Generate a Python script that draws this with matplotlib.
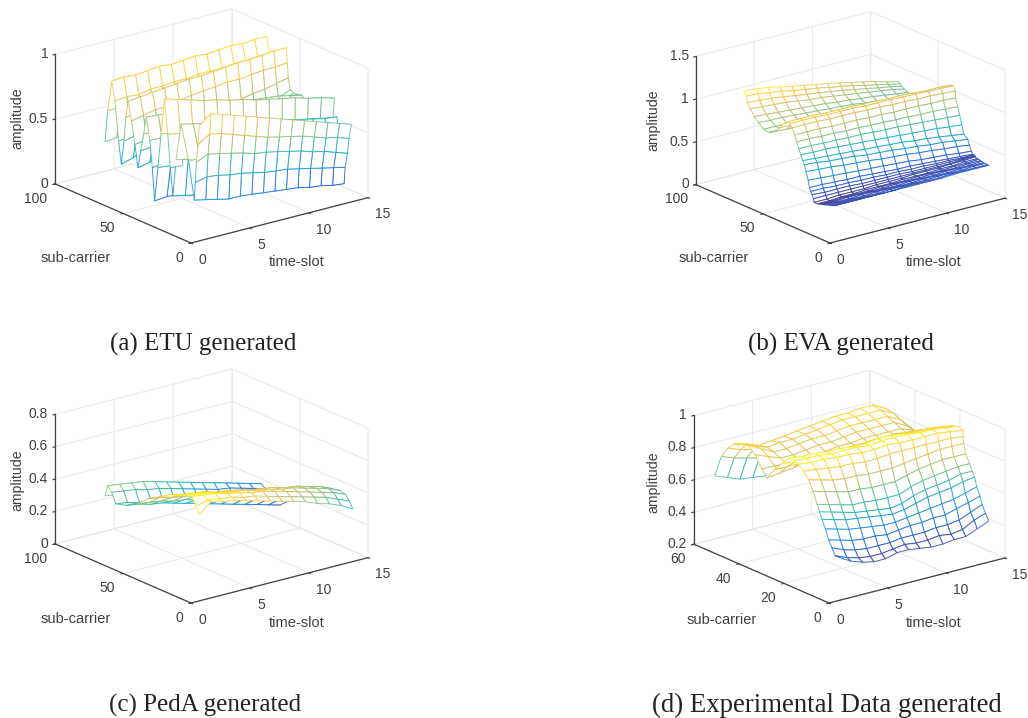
# -*- coding: utf-8 -*-
"""Four mesh plots of channel amplitude over time-slot and sub-carrier."""
import numpy as np
import matplotlib
matplotlib.use("Agg")
import matplotlib.pyplot as plt
from matplotlib.colors import LinearSegmentedColormap, Normalize
from mpl_toolkits.mplot3d import proj3d

"DATA"
x_ticks = [0, 5, 10, 15]
sub_ticks = [0, 50, 100]
sub_ticks_d = [0, 20, 40, 60]
amp_ticks_a = [0, 0.5, 1]
amp_ticks_b = [0, 0.5, 1, 1.5]
amp_ticks_c = [0, 0.2, 0.4, 0.6, 0.8]
amp_ticks_d = [0.2, 0.4, 0.6, 0.8, 1]
captions = ["(a) ETU generated", "(b) EVA generated", "(c) PedA generated",
            "(d) Experimental Data generated"]

# ETU: one entry per mesh row, back to front
y_a = [72, 70, 67, 64.7, 62, 60, 58, 56.7, 55, 52.5, 50, 47.7, 45.7, 43.5, 41.6, 39, 37.2,
       35.5, 33, 30.7, 28.2, 25.8, 24, 22, 19.7, 16, 10.5, 6.3, 5.5, 4.7, 3.5, 2.7]
end_a = [14, 14, 14.1, 14.1, 14.2, 14.2, 14.3, 14.3, 14.4, 14.2, 14, 13.9, 14, 14.1, 14.2, 14.3, 14.5,
         14.7, 14.9, 15.2, 15.4, 15, 14.8, 14.6, 14.4, 14.2, 14, 13.7, 13.7, 13.8, 13.8, 13.9]
z_a = [
    [.43, .44, .44, .45, .45, .46, .46, .46, .47, .47, .47, .48, .48, .48],
    [.68, .68, .69, .69, .69, .69, .70, .70, .70, .70, .70, .70, .70, .70],
    [.92, .93, .92, .93, .94, .93, .94, .95, .94, .95, .96, .95, .96, .96],
    [.78, .79, .78, .80, .80, .81, .81, .82, .82, .82, .83, .83, .84, .84],
    [.48, .50, .52, .54, .56, .58, .60, .62, .63, .65, .66, .68, .70, .72],
    [.31, .34, .38, .42, .46, .50, .54, .58, .60, .62, .64, .66, .68, .70],
    [.50, .52, .55, .58, .60, .63, .65, .67, .70, .72, .74, .76, .78, .80],
    [.69, .70, .72, .74, .75, .77, .78, .80, .81, .83, .85, .86, .88, .89],
    [.82, .83, .84, .85, .86, .87, .87, .88, .89, .90, .90, .91, .92, .92],
    [.68, .70, .72, .72, .74, .76, .77, .78, .79, .79, .80, .81, .81, .82],
    [.51, .52, .53, .55, .56, .58, .60, .62, .63, .65, .67, .68, .70, .72],
    [.34, .36, .38, .39, .41, .43, .45, .47, .49, .51, .53, .56, .60, .64],
    [.48, .49, .50, .50, .51, .52, .53, .54, .55, .56, .57, .58, .60, .62],
    [.62, .62, .63, .63, .63, .63, .63, .63, .63, .63, .63, .63, .62, .62],
    [.76, .75, .74, .74, .73, .72, .71, .70, .69, .68, .67, .66, .64, .62],
    [.59, .59, .59, .60, .60, .60, .60, .60, .59, .59, .58, .58, .56, .55],
    [.39, .40, .40, .40, .41, .41, .42, .42, .43, .44, .44, .45, .46, .47],
    [.14, .15, .14, .14, .15, .17, .20, .23, .26, .28, .30, .32, .34, .36],
    [.41, .40, .38, .38, .38, .39, .40, .41, .42, .42, .43, .44, .44, .45],
    [.68, .66, .63, .62, .60, .60, .59, .58, .58, .57, .57, .56, .56, .55],
    [.96, .93, .90, .87, .85, .82, .80, .77, .75, .73, .71, .68, .66, .63],
    [.70, .68, .66, .64, .63, .61, .60, .58, .57, .56, .55, .54, .52, .50],
    [.45, .44, .43, .42, .42, .41, .40, .40, .39, .39, .38, .38, .37, .36],
    [.24, .22, .20, .20, .20, .21, .22, .22, .23, .23, .24, .24, .25, .25],
    [.53, .51, .50, .48, .47, .45, .44, .43, .42, .41, .40, .39, .38, .38],
    [.82, .80, .78, .76, .74, .72, .70, .68, .66, .64, .62, .60, .58, .57],
    [.57, .55, .54, .52, .50, .48, .46, .44, .43, .41, .39, .37, .35, .33],
    [.28, .26, .24, .22, .22, .21, .20, .19, .18, .17, .15, .14, .12, .11],
    [.42, .44, .43, .41, .40, .38, .36, .35, .34, .32, .30, .28, .26, .24],
    [.58, .62, .60, .58, .56, .53, .52, .50, .48, .46, .43, .41, .38, .35],
    [.72, .78, .76, .73, .70, .67, .64, .62, .60, .58, .55, .52, .50, .47],
    [.87, .94, .91, .88, .85, .82, .79, .76, .73, .70, .67, .64, .61, .58],
]

# EVA
y_b = [72.5, 71, 70, 68, 65, 62, 58, 54, 50, 46, 43, 40, 38.5, 37, 35, 33.5, 32, 30.5, 29, 27.8,
       26.5, 25, 24, 23, 22, 21, 20.5, 18, 16, 14, 12, 10, 8, 6, 4]
end_b = [14.2, 14.2, 14.2, 14.2, 14.2, 14.2, 14.2, 14.2, 14.2, 14.5, 14.8, 15, 15, 15, 14.8, 14.8,
         14.8, 14.8, 14.8, 15, 15, 15, 15, 15, 14.9, 14.9, 14.8, 14.7, 14.6, 14.5, 14.4, 14.3, 14.2, 14.2, 14.1]
z_b = [
    [1.25, 1.24, 1.22, 1.19, 1.16, 1.14, 1.11, 1.09, 1.06, 1.03, 1.00, .97, .93, .90],
    [1.20, 1.19, 1.17, 1.15, 1.12, 1.10, 1.08, 1.05, 1.03, 1.00, .97, .94, .91, .88],
    [1.13, 1.12, 1.11, 1.09, 1.07, 1.05, 1.03, 1.01, .99, .96, .94, .91, .89, .86],
    [1.07, 1.06, 1.05, 1.04, 1.02, 1.00, .99, .97, .95, .93, .91, .89, .87, .84],
    [1.00, .99, .98, .97, .96, .95, .94, .92, .91, .89, .88, .86, .84, .82],
    [.95, .94, .94, .93, .92, .91, .90, .89, .88, .86, .85, .83, .82, .80],
    [.90, .90, .89, .89, .88, .87, .87, .86, .85, .84, .83, .82, .80, .79],
    [.89, .89, .88, .88, .87, .87, .86, .85, .85, .84, .83, .81, .80, .79],
    [.93, .92, .92, .91, .91, .90, .89, .89, .88, .87, .86, .85, .84, .82],
    [1.00, 1.00, .99, .99, .98, .97, .97, .96, .95, .94, .93, .92, .91, .90],
    [1.07, 1.07, 1.06, 1.06, 1.05, 1.05, 1.04, 1.04, 1.03, 1.02, 1.01, 1.00, .99, .98],
    [1.11, 1.11, 1.11, 1.10, 1.10, 1.10, 1.09, 1.09, 1.08, 1.08, 1.07, 1.06, 1.06, 1.05],
    [1.10, 1.10, 1.10, 1.09, 1.09, 1.09, 1.08, 1.08, 1.08, 1.07, 1.07, 1.06, 1.06, 1.05],
    [1.06, 1.06, 1.06, 1.05, 1.05, 1.05, 1.04, 1.04, 1.03, 1.03, 1.02, 1.02, 1.01, 1.00],
    [.99, .99, .99, .98, .98, .98, .97, .97, .96, .96, .96, .95, .95, .94],
    [.92, .92, .91, .91, .90, .90, .89, .89, .88, .88, .87, .87, .86, .85],
    [.85, .85, .84, .84, .83, .83, .82, .81, .81, .80, .79, .78, .77, .76],
    [.79, .78, .78, .77, .76, .75, .74, .73, .72, .71, .70, .69, .67, .66],
    [.73, .72, .71, .70, .69, .68, .67, .66, .65, .63, .62, .60, .58, .56],
    [.69, .68, .66, .65, .64, .62, .61, .60, .58, .57, .55, .54, .52, .50],
    [.62, .61, .60, .58, .57, .56, .54, .53, .52, .50, .49, .47, .46, .44],
    [.53, .52, .51, .50, .49, .48, .47, .46, .45, .43, .42, .41, .39, .38],
    [.45, .45, .44, .43, .43, .42, .41, .40, .40, .39, .38, .37, .36, .35],
    [.41, .41, .40, .40, .39, .39, .38, .38, .37, .37, .36, .36, .35, .35],
    [.38, .37, .37, .37, .36, .36, .36, .36, .35, .35, .35, .35, .35, .35],
    [.34, .34, .34, .34, .34, .34, .34, .34, .34, .34, .34, .34, .35, .35],
    [.30, .30, .31, .31, .31, .32, .32, .32, .33, .33, .33, .34, .34, .35],
    [.30, .30, .31, .31, .32, .32, .32, .33, .33, .33, .34, .34, .35, .35],
    [.31, .31, .32, .32, .32, .33, .33, .33, .34, .34, .34, .35, .35, .36],
    [.32, .32, .33, .33, .33, .33, .34, .34, .34, .35, .35, .35, .36, .36],
    [.33, .33, .33, .34, .34, .34, .34, .35, .35, .35, .36, .36, .36, .37],
    [.34, .34, .34, .34, .35, .35, .35, .35, .36, .36, .36, .37, .37, .37],
    [.35, .35, .35, .35, .35, .36, .36, .36, .36, .37, .37, .37, .38, .38],
    [.36, .36, .36, .36, .36, .36, .37, .37, .37, .37, .38, .38, .38, .38],
    [.38, .38, .38, .38, .38, .38, .38, .38, .38, .38, .39, .39, .39, .39],
]

# PedA
y_c = [72, 70, 67, 64, 56, 48, 40, 32, 25, 18, 12, 8, 5, 2.5]
end_c = [14, 14, 14, 14, 14, 14, 14, 14, 14, 14, 14, 14, 14, 14]
z_c = [
    [.38, .37, .36, .35, .34, .32, .31, .29, .28, .26, .25, .23, .21, .20],
    [.45, .44, .43, .42, .40, .38, .36, .34, .32, .30, .28, .26, .24, .22],
    [.42, .41, .40, .38, .37, .35, .33, .31, .29, .27, .26, .24, .22, .20],
    [.36, .35, .33, .32, .30, .28, .27, .25, .23, .21, .19, .17, .15, .13],
    [.38, .37, .35, .34, .32, .30, .28, .26, .24, .22, .20, .18, .16, .14],
    [.42, .41, .40, .38, .37, .35, .33, .31, .30, .28, .26, .24, .22, .20],
    [.48, .47, .45, .44, .42, .41, .39, .37, .36, .34, .32, .30, .27, .25],
    [.52, .50, .49, .48, .46, .45, .43, .41, .40, .38, .36, .34, .31, .29],
    [.56, .54, .53, .52, .50, .49, .47, .46, .44, .43, .41, .39, .37, .34],
    [.58, .57, .56, .54, .53, .52, .50, .49, .48, .46, .45, .43, .41, .38],
    [.60, .59, .58, .56, .55, .54, .52, .51, .49, .48, .46, .44, .42, .39],
    [.61, .60, .59, .57, .56, .54, .53, .51, .49, .47, .45, .43, .41, .38],
    [.56, .58, .57, .56, .54, .53, .51, .49, .47, .45, .43, .41, .38, .35],
    [.52, .58, .56, .55, .53, .51, .49, .47, .45, .43, .40, .38, .35, .31],
]

# experimental data
y_d = [56, 53, 50, 47.5, 44, 41, 38, 35, 32.7, 29.5, 26, 23, 21, 18.7, 16.5, 14.2, 12.3, 10.5, 9.4,
       8.3, 6.8, 5.4, 3.9, 2.4, 0.5]
end_d = [15, 15, 15, 15, 15, 15, 15, 15, 15, 15, 15, 15, 15, 15, 14.6, 14.2, 14, 14, 14, 14, 13.9,
         13.9, 13.8, 13.8, 13.7]
z_d = [
    [.63, .60, .57, .56, .55, .56, .57, .58, .60, .60, .61, .62, .60, .58],
    [.77, .74, .72, .70, .72, .73, .74, .75, .76, .77, .77, .76, .72, .66],
    [.84, .81, .79, .79, .81, .82, .83, .84, .85, .85, .85, .84, .80, .72],
    [.88, .86, .83, .84, .85, .86, .87, .88, .89, .89, .90, .90, .86, .77],
    [.90, .87, .84, .85, .85, .86, .87, .88, .89, .89, .89, .89, .85, .76],
    [.91, .87, .83, .83, .84, .85, .85, .86, .87, .87, .87, .87, .83, .75],
    [.87, .84, .81, .81, .82, .83, .83, .84, .85, .85, .85, .85, .81, .74],
    [.80, .80, .79, .79, .80, .81, .82, .82, .83, .83, .83, .83, .80, .75],
    [.76, .77, .78, .79, .80, .81, .81, .82, .82, .82, .83, .82, .80, .77],
    [.83, .83, .83, .84, .84, .84, .85, .85, .85, .85, .85, .85, .84, .82],
    [.89, .88, .88, .88, .88, .88, .88, .89, .89, .88, .88, .87, .87, .86],
    [.94, .93, .93, .92, .92, .91, .91, .92, .92, .91, .90, .90, .89, .88],
    [.94, .93, .93, .92, .92, .92, .91, .92, .92, .92, .91, .91, .90, .89],
    [.93, .92, .92, .91, .91, .90, .90, .91, .90, .90, .90, .90, .89, .88],
    [.90, .89, .88, .87, .87, .86, .86, .87, .87, .87, .87, .87, .87, .86],
    [.86, .84, .82, .81, .81, .80, .80, .80, .81, .82, .83, .84, .84, .84],
    [.80, .78, .76, .74, .74, .73, .73, .73, .75, .77, .78, .79, .79, .79],
    [.73, .71, .69, .67, .67, .66, .66, .66, .69, .71, .72, .73, .74, .74],
    [.69, .67, .65, .63, .62, .61, .60, .61, .64, .66, .67, .68, .70, .70],
    [.65, .63, .61, .60, .59, .58, .57, .58, .60, .62, .63, .64, .66, .67],
    [.60, .58, .56, .55, .54, .53, .53, .54, .55, .56, .57, .58, .60, .62],
    [.54, .52, .50, .49, .49, .48, .49, .50, .50, .51, .51, .53, .55, .57],
    [.50, .47, .45, .44, .44, .44, .45, .45, .45, .46, .46, .47, .50, .53],
    [.46, .43, .41, .40, .40, .41, .42, .41, .41, .42, .41, .42, .46, .485],
    [.46, .42, .395, .38, .38, .40, .40, .39, .38, .38, .39, .39, .42, .45],
]

"STYLE"
W, H = 1028, 718
TEXT = "#404040"
parula = LinearSegmentedColormap.from_list(
    "parula", ["#352A87", "#0F5CDD", "#1481D6", "#06A4CA", "#2EB7A4",
               "#87BF77", "#D1BB59", "#FEC832", "#F9FB0E"])
plt.rcParams["font.family"] = ["Liberation Sans", "DejaVu Sans"]

fig = plt.figure(figsize=(W / 100, H / 100), dpi=100, facecolor="white")


def to_px(ax, x, y, z):
    xs, ys, _ = proj3d.proj_transform(x, y, z, ax.get_proj())
    return ax.transData.transform((xs, ys))


def panel(front, right, ylim, zlim, yticks, zticks, y_rows, x_end, z_rows, vmin, vmax):
    ax = fig.add_axes([0.05, 0.05, 0.4, 0.5], projection="3d", proj_type="ortho")
    ax.patch.set_alpha(0)
    ax.view_init(elev=19.5, azim=-127.5)
    ax.set_xlim(0, 15, view_margin=0)
    ax.set_ylim(*ylim, view_margin=0)
    ax.set_zlim(*zlim, view_margin=0)
    aspect = (1, 1, 0.616)
    ax.set_box_aspect(aspect)

    # mesh rows, white faces hide what is behind like in a matlab mesh
    Z = np.array(z_rows)
    Y = np.array(y_rows)[:, None] * np.ones(Z.shape)
    X = np.array([np.linspace(1, e, Z.shape[1]) for e in x_end])
    surf = ax.plot_surface(X, Y, Z, rstride=1, cstride=1, color="white", shade=False,
                           linewidth=0.7, antialiased=True)
    cells = (Z[:-1, :-1] + Z[1:, :-1] + Z[:-1, 1:] + Z[1:, 1:]) / 4
    colors = parula(Normalize(vmin, vmax)(cells.ravel()))
    colors[:, 3] = 0.8
    surf.set_edgecolor(colors)

    ax.set_xticks(x_ticks)
    ax.set_yticks(yticks)
    ax.set_zticks(zticks)
    ax.set_xticklabels([f"{t:g}" for t in x_ticks], ha="left", va="top")
    ax.set_yticklabels([f"{t:g}" for t in yticks], ha="right", va="top")
    ax.set_zticklabels([f"{t:g}" for t in zticks], ha="right", va="center")
    ax.tick_params(labelsize=10, labelcolor=TEXT, color=TEXT)
    ax.xaxis.set_tick_params(pad=-1)
    ax.yaxis.set_tick_params(pad=-2)
    ax.zaxis.set_tick_params(pad=-5)
    ax.zaxis.set_ticks_position("upper")
    for axis in (ax.xaxis, ax.yaxis, ax.zaxis):
        axis.set_pane_color((1, 1, 1, 0))
        axis.pane.set_edgecolor("#e2e2e2")
        axis.line.set_color(TEXT)
        axis.line.set_linewidth(0.9)
        axis._axinfo["grid"].update(color="#e8e8e8", linewidth=0.7)
        axis._axinfo["tick"].update(inward_factor=0.15, outward_factor=0.0)

    # scale and shift the axes so the box lands where it should
    fig.canvas.draw()
    a = to_px(ax, 0, ylim[0], zlim[0])
    b = to_px(ax, 15, ylim[0], zlim[0])
    scale = (right[0] - front[0]) / (b[0] - a[0])
    ax.set_box_aspect(aspect, zoom=scale)
    fig.canvas.draw()
    a = to_px(ax, 0, ylim[0], zlim[0])
    pos = ax.get_position(original=True)
    ax.set_position([pos.x0 + (front[0] - a[0]) / W, pos.y0 + (H - front[1] - a[1]) / H,
                     pos.width, pos.height])
    return ax


panel((191, 243), (368, 199), (0, 100), (0, 1), sub_ticks, amp_ticks_a, y_a, end_a, z_a, 0.1, 0.96)
panel((830, 243), (1005, 198), (0, 100), (0, 1.5), sub_ticks, amp_ticks_b, y_b, end_b, z_b, 0.3, 1.25)
panel((191, 603), (368, 558), (0, 100), (0, 0.8), sub_ticks, amp_ticks_c, y_c, end_c, z_c, 0.13, 0.6)
panel((829, 603), (1005, 558), (0, 60), (0.2, 1), sub_ticks_d, amp_ticks_d, y_d, end_d, z_d, 0.38, 0.94)

# axis titles sit at fixed spots, mplot3d only moves its own along the box normal
slot_xy = [(297, 262), (934, 262), (297, 623), (934, 623)]
sub_xy = [(76, 258), (714, 258), (76, 619), (722, 620)]
amp_xy = [(17, 118), (653, 120), (17, 480), (653, 482)]
for (sx, sy), (ux, uy), (ax_, ay) in zip(slot_xy, sub_xy, amp_xy):
    fig.text(sx / W, 1 - sy / H, "time-slot", ha="center", va="center", fontsize=10.5, color=TEXT)
    fig.text(ux / W, 1 - uy / H, "sub-carrier", ha="center", va="center", fontsize=10.5, color=TEXT)
    fig.text(ax_ / W, 1 - ay / H, "amplitude", ha="center", va="center", fontsize=10.2, color=TEXT,
             rotation=90)

for (cx, cy), text, size in zip([(203, 344), (841, 344), (205, 705), (827, 705)], captions, [18, 18, 18, 19.3]):
    fig.text(cx / W, 1 - cy / H, text, ha="center", va="center", fontsize=size,
             family=["Liberation Serif", "DejaVu Serif"], color="#222222")

fig.savefig("out.png", dpi=100)
